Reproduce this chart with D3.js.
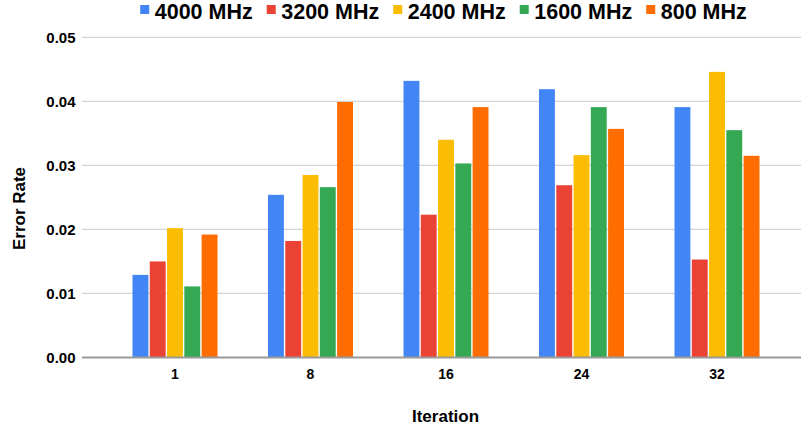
<!DOCTYPE html>
<html>
<head>
<meta charset="utf-8">
<script src="https://cdn.jsdelivr.net/npm/d3@7"></script>
<style>
  body { margin: 0; background: #fff; }
  svg { display: block; font-family: "Liberation Sans", Arial, sans-serif; }
</style>
</head>
<body>
<script>
const iterations = ['1', '8', '16', '24', '32'];
const seriesNames = ['4000 MHz', '3200 MHz', '2400 MHz', '1600 MHz', '800 MHz'];
const colors = ['#4285F4', '#EA4335', '#FBBC04', '#34A853', '#FF6D01'];

// error rate per iteration, one array per series
const mhz4000 = [0.0129, 0.0254, 0.0432, 0.0419, 0.0391];
const mhz3200 = [0.0150, 0.0182, 0.0223, 0.0269, 0.0153];
const mhz2400 = [0.0202, 0.0285, 0.0340, 0.0316, 0.0446];
const mhz1600 = [0.0111, 0.0266, 0.0303, 0.0391, 0.0355];
const mhz800 = [0.0192, 0.0399, 0.0391, 0.0357, 0.0315];
const yTicks = [0, 0.01, 0.02, 0.03, 0.04, 0.05];

const series = [mhz4000, mhz3200, mhz2400, mhz1600, mhz800];

const width = 801;
const height = 430;
const plotLeft = 82;
const plotRight = 801;

const svg = d3.select('body').append('svg')
  .attr('width', width)
  .attr('height', height);

const x0 = d3.scaleBand()
  .domain(iterations)
  .range([107.25, 784.75])
  .paddingInner(0.3727)
  .paddingOuter(0.3727 / 2);

const x1 = d3.scaleBand()
  .domain(d3.range(seriesNames.length))
  .range([0, x0.bandwidth()])
  .paddingInner(0.08);

const y = d3.scaleLinear()
  .domain([0, 0.05])
  .range([357.5, 37.3]);

// gridlines
svg.append('g')
  .selectAll('line')
  .data(yTicks.slice(1))
  .enter()
  .append('line')
  .attr('x1', plotLeft)
  .attr('x2', plotRight)
  .attr('y1', (d) => y(d))
  .attr('y2', (d) => y(d))
  .attr('stroke', '#d4d4d4')
  .attr('stroke-width', 1.3);

// y tick labels
svg.append('g')
  .selectAll('text')
  .data(yTicks)
  .enter()
  .append('text')
  .attr('x', 75.5)
  .attr('y', (d) => y(d) + 5.3)
  .attr('text-anchor', 'end')
  .attr('font-size', 15)
  .attr('font-weight', 'bold')
  .attr('fill', '#000')
  .text((d) => d3.format('.2f')(d));

// bars
const groups = svg.append('g')
  .selectAll('g')
  .data(iterations)
  .enter()
  .append('g')
  .attr('transform', (d) => `translate(${x0(d)},0)`);

groups.selectAll('rect')
  .data((d, i) => series.map((s, k) => ({ k, v: s[i] })))
  .enter()
  .append('rect')
  .attr('x', (d) => x1(d.k))
  .attr('width', x1.bandwidth())
  .attr('y', (d) => y(d.v))
  .attr('height', (d) => y(0) - y(d.v))
  .attr('fill', (d) => colors[d.k]);

// baseline
svg.append('line')
  .attr('x1', plotLeft)
  .attr('x2', plotRight)
  .attr('y1', y(0))
  .attr('y2', y(0))
  .attr('stroke', '#999')
  .attr('stroke-width', 2);

// x tick labels
svg.append('g')
  .selectAll('text')
  .data(iterations)
  .enter()
  .append('text')
  .attr('x', (d) => x0(d) + x0.bandwidth() / 2)
  .attr('y', 379)
  .attr('text-anchor', 'middle')
  .attr('font-size', 14)
  .attr('font-weight', 'bold')
  .attr('fill', '#000')
  .text((d) => d);

// axis titles
svg.append('text')
  .attr('x', 445.5)
  .attr('y', 421.5)
  .attr('text-anchor', 'middle')
  .attr('font-size', 17)
  .attr('font-weight', 'bold')
  .attr('fill', '#000')
  .text('Iteration');

svg.append('text')
  .attr('transform', 'translate(25,208.5) rotate(-90)')
  .attr('text-anchor', 'middle')
  .attr('font-size', 17)
  .attr('font-weight', 'bold')
  .attr('fill', '#000')
  .text('Error Rate');

// legend
const legend = svg.append('g');
const items = legend.selectAll('g')
  .data(seriesNames)
  .enter()
  .append('g');

items.append('rect')
  .attr('width', 9)
  .attr('height', 9)
  .attr('y', 5)
  .attr('fill', (d, i) => colors[i]);

items.append('text')
  .attr('x', 14.5)
  .attr('y', 18.5)
  .attr('font-size', 21.5)
  .attr('font-weight', 'bold')
  .attr('fill', '#000')
  .text((d) => d);

let cursor = 0;
const offsets = [];
items.each(function () {
  offsets.push(cursor);
  const w = d3.select(this).select('text').node().getComputedTextLength();
  cursor += 14.5 + w + 14;
});
const legendWidth = cursor - 14;
const legendStart = 443.5 - legendWidth / 2;
items.attr('transform', (d, i) => `translate(${legendStart + offsets[i]},0)`);
</script>
</body>
</html>
